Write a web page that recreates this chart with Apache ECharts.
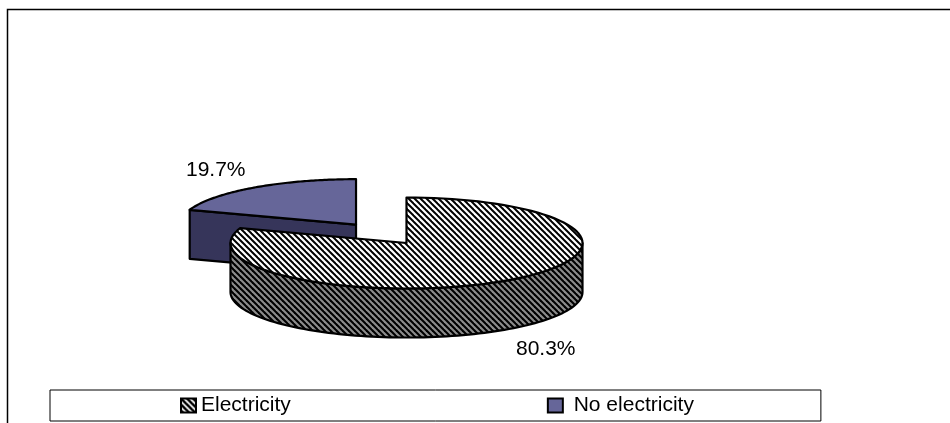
<!DOCTYPE html>
<html>
<head>
<meta charset="utf-8">
<style>html,body{margin:0;padding:0;background:#fff}#chart{width:950px;height:423px}</style>
<script src="https://cdn.jsdelivr.net/npm/echarts@6/dist/echarts.min.js"></script>
</head>
<body>
<div id="chart"></div>
<script>
const categories = ['Electricity', 'No electricity'];
const values = [80.3, 19.7];
const topColors = ['#ffffff', '#666699'];
const sideColors = ['#808080', '#36355a'];

// Pie geometry: an elliptical disc seen from above, with exploded slices.
const centre = [406.5, 243];
const rx = 176, ry = 45.5, depth = 49, explode = 87;
const total = values.reduce((a, b) => a + b, 0);
const SEG = 96;

function hatchTile(bg, fg, width) {
  const size = 6;
  const c = document.createElement('canvas');
  c.width = c.height = size;
  const g = c.getContext('2d');
  g.fillStyle = bg;
  g.fillRect(0, 0, size, size);
  g.strokeStyle = fg;
  g.lineWidth = width;
  [-size, 0, size].forEach(o => {
    g.beginPath();
    g.moveTo(o - 1, -1);
    g.lineTo(o + size + 1, size + 1);
    g.stroke();
  });
  return c;
}
const hatchTop = { image: hatchTile('#ffffff', '#000000', 2), repeat: 'repeat' };
const hatchSide = { image: hatchTile('#8c8c8c', '#000000', 2.1), repeat: 'repeat' };
const hatchKey = { image: hatchTile('#ffffff', '#000000', 2.6), repeat: 'repeat' };

function rim(cx, cy, deg, dz) {
  const a = deg * Math.PI / 180;
  return [cx + rx * Math.sin(a), cy - ry * Math.cos(a) + (dz || 0)];
}
function arc(cx, cy, from, to, dz) {
  const pts = [];
  for (let i = 0; i <= SEG; i++) pts.push(rim(cx, cy, from + (to - from) * i / SEG, dz));
  return pts;
}

function sliceItem(index, start, value) {
  const a0 = start / total * 360, a1 = (start + value) / total * 360;
  const mid = (a0 + a1) / 2 * Math.PI / 180;
  const off = index === 0 ? 0 : explode;
  const ox = centre[0] + off * Math.sin(mid);
  const oy = centre[1] - off * Math.cos(mid) * ry / rx;
  const line = { stroke: '#000', lineWidth: 2.2, lineJoin: 'round' };
  const children = [];
  const poly = (pts, fill) => children.push({
    type: 'polygon', shape: { points: pts }, style: Object.assign({ fill }, line)
  });
  const sideFill = index === 0 ? hatchSide : sideColors[index];
  const topFill = index === 0 ? hatchTop : topColors[index];
  // Outer wall: only the part of the rim on the viewer's side shows
  const w0 = Math.max(a0, 90), w1 = Math.min(a1, 270);
  if (w1 > w0) {
    poly(arc(ox, oy, w0, w1, 0).concat(arc(ox, oy, w1, w0, depth)), sideFill);
  }
  // Cut face along the slice's leading edge, visible on the left half
  if (a0 > 180 && a0 < 360) {
    const e = rim(ox, oy, a0, 0);
    poly([[ox, oy], e, [e[0], e[1] + depth], [ox, oy + depth]], sideFill);
  }
  poly([[ox, oy]].concat(arc(ox, oy, a0, a1, 0)), topFill);
  return { type: 'group', children };
}

function sliceSeries(i) {
  const start = i === 0 ? 0 : values.slice(0, i).reduce((a, b) => a + b, 0);
  return {
    type: 'custom',
    name: categories[i],
    coordinateSystem: 'none',
    z: 2 + (i === 0 ? 1 : 0),
    itemStyle: { color: i === 0 ? hatchTop : topColors[i] },
    data: [[start, values[i]]],
    renderItem: (params, api) => sliceItem(i, api.value(0), api.value(1))
  };
}

const chart = echarts.init(document.getElementById('chart'), null, { renderer: 'canvas' });
const labelStyle = { fill: '#000', fontFamily: 'Liberation Sans, Arial, sans-serif', fontSize: 21 };
chart.setOption({
  animation: false,
  backgroundColor: '#fff',
  graphic: [
    { type: 'polyline', silent: true, z: 0, shape: { points: [[7.5, 423], [7.5, 9.5], [950, 9.5]] },
      style: { fill: null, stroke: '#000', lineWidth: 1.5 } },
    { type: 'text', x: 186, y: 160, z: 10, silent: true,
      style: Object.assign({ text: values[1].toFixed(1) + '%' }, labelStyle) },
    { type: 'text', x: 516, y: 339, z: 10, silent: true,
      style: Object.assign({ text: values[0].toFixed(1) + '%' }, labelStyle) }
  ],
  legend: {
    left: 50, top: 390,
    padding: [5, 127, 5, 130],
    backgroundColor: '#fff',
    borderColor: '#000', borderWidth: 1,
    borderRadius: 0,
    itemWidth: 15, itemHeight: 14, itemGap: 256,
    textStyle: { color: '#000', fontFamily: 'Liberation Sans, Arial, sans-serif', fontSize: 21, lineHeight: 21 },
    formatter: name => (name === categories[1] ? ' ' : '') + name,
    data: [
      { name: categories[0], icon: 'rect',
        itemStyle: { color: hatchKey, borderColor: '#000', borderWidth: 2 } },
      { name: categories[1], icon: 'rect',
        itemStyle: { color: topColors[1], borderColor: '#000', borderWidth: 2 } }
    ]
  },
  series: [sliceSeries(1), sliceSeries(0)]
});
</script>
</body>
</html>
